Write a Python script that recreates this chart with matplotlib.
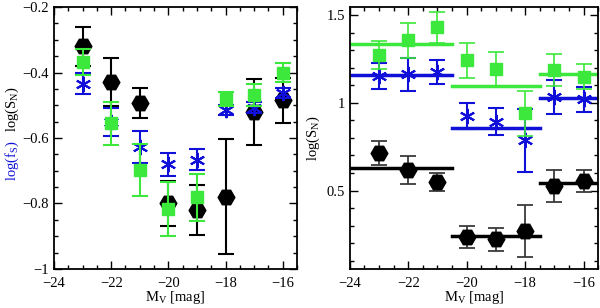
import matplotlib
matplotlib.use("Agg")
import matplotlib.pyplot as plt
from matplotlib.ticker import MultipleLocator, FuncFormatter

plt.rcParams['font.family'] = ['Liberation Serif', 'DejaVu Serif']
plt.rcParams['mathtext.fontset'] = 'custom'
plt.rcParams['mathtext.rm'] = 'Liberation Serif'
plt.rcParams['mathtext.it'] = 'Liberation Serif:italic'

# ---------------- data ----------------
mv = [-23, -22, -21, -20, -19, -18, -17, -16]

# left panel
left_black = [-0.32, -0.43, -0.494, -0.80, -0.82, -0.779, -0.52, -0.485]
left_black_err = [0.06, 0.073, 0.046, 0.07, 0.075, 0.175, 0.10, 0.068]
left_green = [-0.368, -0.555, -0.698, -0.817, -0.781, -0.481, -0.468, -0.40]
left_green_err = [0.04, 0.065, 0.08, 0.082, 0.072, 0.02, 0.033, 0.028]
left_blue = [-0.434, -0.55, -0.627, -0.680, -0.667, -0.515, -0.507, -0.462]
left_blue_err = [0.032, 0.043, 0.048, 0.035, 0.032, 0.015, 0.018, 0.015]

# right panel
right_green = [1.272, 1.357, 1.430, 1.243, 1.192, 0.94, 1.186, 1.148]
right_green_err = [0.078, 0.10, 0.087, 0.10, 0.10, 0.13, 0.09, 0.072]
right_blue = [1.152, 1.163, 1.177, 0.924, 0.892, 0.787, 1.034, 1.019]
right_blue_err = [0.075, 0.095, 0.07, 0.076, 0.076, 0.18, 0.098, 0.07]
right_black = [0.715, 0.616, 0.549, 0.236, 0.221, 0.268, 0.525, 0.553]
right_black_err = [0.07, 0.08, 0.05, 0.064, 0.068, 0.15, 0.092, 0.063]

# bin means (horizontal lines): bin edges and values
bin_edges = [(-24.0, -20.5), (-20.5, -17.5), (-17.5, -15.5)]
mean_green = [1.338, 1.097, 1.167]
mean_blue = [1.158, 0.857, 1.029]
mean_black = [0.629, 0.241, 0.544]

GREEN = '#3be83b'
BLUE = '#1010d8'
BLACK = '#000000'
DGRAY = '#3a3a3a'

fig = plt.figure(figsize=(6.0, 3.08), dpi=100)
axL = fig.add_axes([0.09, 0.127, 0.405, 0.85])
axR = fig.add_axes([0.583, 0.127, 0.414, 0.85])

fmt = FuncFormatter(lambda v, p: ('%g' % v).replace('-', '\u2212'))

def style(ax):
    ax.tick_params(which='both', direction='in', top=True, right=True,
                   labelsize=10.5, width=1.0)
    ax.tick_params(which='major', length=6)
    ax.tick_params(which='minor', length=3)
    ax.tick_params(axis='x', which='major', pad=6)
    for s in ax.spines.values():
        s.set_linewidth(1.3)
    ax.set_xlim(-24, -15.5)
    ax.xaxis.set_major_locator(MultipleLocator(2))
    ax.xaxis.set_minor_locator(MultipleLocator(0.5))
    ax.xaxis.set_major_formatter(fmt)
    ax.yaxis.set_major_formatter(fmt)
    ax.set_xlabel(r'M$_\mathrm{V}$ [mag]', fontsize=10.5, labelpad=-1)

ms_hex = 12
ms_sq = 9.0
ms_star = 11

# ---- left panel ----
axL.errorbar(mv, left_black, yerr=left_black_err, fmt='H', color=BLACK,
             ms=ms_hex, capsize=5.5, elinewidth=1.5, capthick=1.5, zorder=3)
axL.errorbar(mv, left_blue, yerr=left_blue_err, fmt='none', ecolor=BLUE,
             capsize=5.5, elinewidth=1.5, capthick=1.5, zorder=4)
axL.plot(mv, left_blue, ls='none', marker=(6, 2, 0), color=BLUE,
         ms=ms_star, mew=1.5, zorder=4)
axL.errorbar(mv, left_green, yerr=left_green_err, fmt='s', color=GREEN,
             ms=ms_sq, capsize=5.5, elinewidth=1.5, capthick=1.5, zorder=5)
axL.set_ylim(-1, -0.2)
axL.yaxis.set_major_locator(MultipleLocator(0.2))
axL.yaxis.set_minor_locator(MultipleLocator(0.05))
style(axL)

fig.text(0.02, 0.48, r'log(f$_\mathrm{S}$)', color=BLUE, rotation=90,
         fontsize=10.5, ha='center', va='center')
fig.text(0.02, 0.646, r'log(S$_\mathrm{N}$)', color=BLACK, rotation=90,
         fontsize=10.5, ha='center', va='center')

# ---- right panel ----
for (x0, x1), g, b, k in zip(bin_edges, mean_green, mean_blue, mean_black):
    axR.plot([x0, x1], [g, g], color=GREEN, lw=2.5, zorder=2)
    axR.plot([x0, x1], [b, b], color=BLUE, lw=2.5, zorder=2)
    axR.plot([x0, x1], [k, k], color=BLACK, lw=2.5, zorder=2)

axR.errorbar(mv, right_black, yerr=right_black_err, fmt='H', color=BLACK,
             ecolor=DGRAY, ms=ms_hex, capsize=5.5, elinewidth=1.3,
             capthick=1.3, zorder=3)
axR.errorbar(mv, right_blue, yerr=right_blue_err, fmt='none', ecolor=BLUE,
             capsize=5.5, elinewidth=1.5, capthick=1.5, zorder=4)
axR.plot(mv, right_blue, ls='none', marker=(6, 2, 0), color=BLUE,
         ms=ms_star, mew=1.5, zorder=4)
axR.errorbar(mv, right_green, yerr=right_green_err, fmt='s', color=GREEN,
             ms=ms_sq, capsize=5.5, elinewidth=1.2, capthick=1.2, zorder=5)
axR.set_ylim(0.053, 1.546)
axR.yaxis.set_major_locator(MultipleLocator(0.5))
axR.yaxis.set_minor_locator(MultipleLocator(0.1))
style(axR)
axR.set_ylabel(r'log(S$_\mathrm{N}$)', fontsize=10.5, labelpad=3)

fig.savefig('out.png', dpi=100)
